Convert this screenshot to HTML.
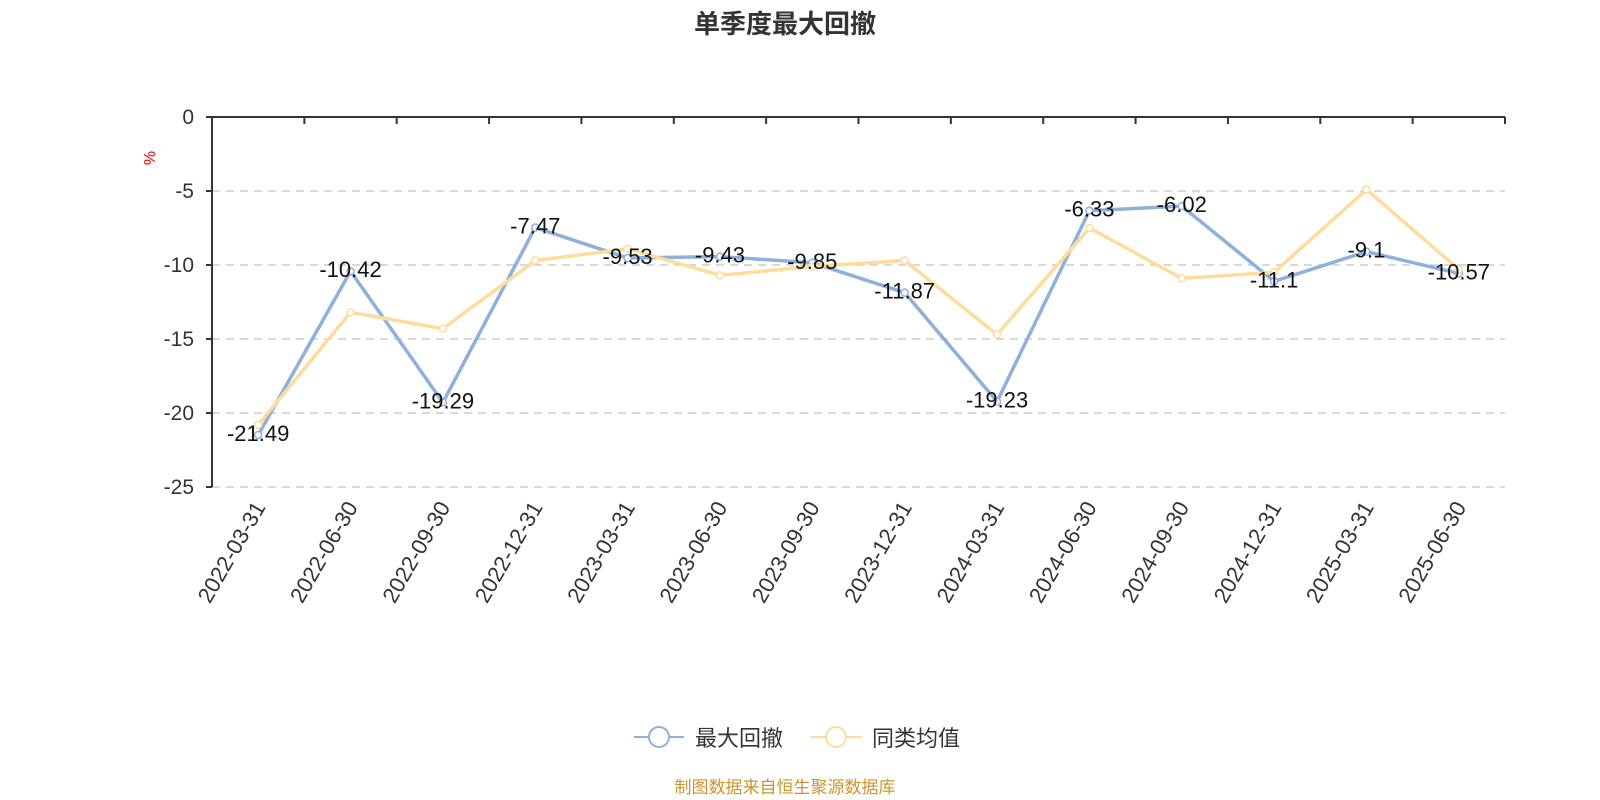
<!DOCTYPE html>
<html><head><meta charset="utf-8"><style>
html,body{margin:0;padding:0;background:#fff;width:1600px;height:800px;overflow:hidden;}
svg{display:block;font-family:"Liberation Sans","Noto Sans CJK SC",sans-serif;}
</style></head><body>
<svg id="chart" width="1600" height="800" viewBox="0 0 1600 800" xmlns="http://www.w3.org/2000/svg">
<text x="785" y="33" text-anchor="middle" font-size="26" font-weight="bold" fill="#333">单季度最大回撤</text>
<text x="155" y="158" font-size="16" fill="#e00" transform="rotate(-90 155 158)" text-anchor="middle">%</text>
<g id="grid"></g><g id="axes"></g><g id="series"></g><g id="labels"></g>
<g>
<g>
<line x1="634" y1="737" x2="684" y2="737" stroke="#8eb0dc" stroke-width="2"/>
<circle cx="659" cy="737" r="10" fill="#fff" stroke="#8eb0dc" stroke-width="2"/>
<text x="695" y="746" font-size="22" fill="#333">最大回撤</text></g>
<g>
<line x1="811" y1="737" x2="861" y2="737" stroke="#fddc9c" stroke-width="2"/>
<circle cx="836" cy="737" r="10" fill="#fff" stroke="#fddc9c" stroke-width="2"/>
<text x="872" y="746" font-size="22" fill="#333">同类均值</text></g>
</g>
<text x="785" y="793" text-anchor="middle" font-size="17" fill="#c8962e">制图数据来自恒生聚源数据库</text>
</svg>
<script>
const categories=["2022-03-31","2022-06-30","2022-09-30","2022-12-31","2023-03-31","2023-06-30","2023-09-30","2023-12-31","2024-03-31","2024-06-30","2024-09-30","2024-12-31","2025-03-31","2025-06-30"];
const maxDrawdown=[-21.49,-10.42,-19.29,-7.47,-9.53,-9.43,-9.85,-11.87,-19.23,-6.33,-6.02,-11.1,-9.1,-10.57];
const peerAverage=[-20.8,-13.2,-14.3,-9.7,-8.9,-10.7,-10.1,-9.7,-14.7,-7.5,-10.9,-10.5,-4.9,-10.3];
const yTicks=[0,-5,-10,-15,-20,-25];
const NS="http://www.w3.org/2000/svg";
const L=212,R=1505,T=117,B=487,band=(R-L)/categories.length;
const xs=i=>L+band*(i+0.5);
const ys=v=>T+(0-v)/25*(B-T);
function mk(tag,attrs,parent){const e=document.createElementNS(NS,tag);for(const k in attrs)e.setAttribute(k,attrs[k]);parent.appendChild(e);return e;}
const grid=document.getElementById('grid'),axes=document.getElementById('axes'),series=document.getElementById('series'),labels=document.getElementById('labels');
yTicks.forEach(v=>{
 if(v!==0){const g=mk('line',{x1:L,x2:R,y1:ys(v),y2:ys(v),stroke:'#ccc','stroke-width':1.5,'stroke-dasharray':'8,6'},grid);
 
 }
 const t=mk('text',{x:L-18,y:ys(v)+7,'text-anchor':'end','font-size':21,fill:'#333'},axes);t.textContent=v;
 
 
 mk('line',{x1:L-6,x2:L,y1:ys(v),y2:ys(v),stroke:'#333','stroke-width':2},axes);
});
const ya=mk('line',{x1:L,x2:L,y1:T,y2:B,stroke:'#333','stroke-width':2},axes);


const xa=mk('line',{x1:L,x2:R,y1:T,y2:T,stroke:'#333','stroke-width':2},axes);


for(let i=0;i<=categories.length;i++){mk('line',{x1:L+band*i,x2:L+band*i,y1:T,y2:T+7,stroke:'#333','stroke-width':2},axes);}
categories.forEach((c,i)=>{const x=xs(i)+8,y=B+20;
 const t=mk('text',{x:x,y:y,'text-anchor':'end','font-size':22,fill:'#333',transform:`rotate(-60 ${x} ${y})`},axes);t.textContent=c;
 
 });
function draw(vals,color,name){
 const p=mk('polyline',{points:vals.map((v,i)=>xs(i)+','+ys(v)).join(' '),fill:'none',stroke:color,'stroke-width':3.5},series);
 
 
 vals.forEach((v,i)=>{const c=mk('circle',{cx:xs(i),cy:ys(v),r:3.5,fill:'#fff',stroke:color,'stroke-width':1.5},series);
 
 });
}
draw(maxDrawdown,'#8eb0dc','max-drawdown');
draw(peerAverage,'#fddc9c','peer-average');
maxDrawdown.forEach((v,i)=>{
 const t=mk('text',{x:xs(i),y:ys(v)+6,'text-anchor':'middle','font-size':22,fill:'#111'},labels);t.textContent=v;
 
 });
</script>
</body></html>
